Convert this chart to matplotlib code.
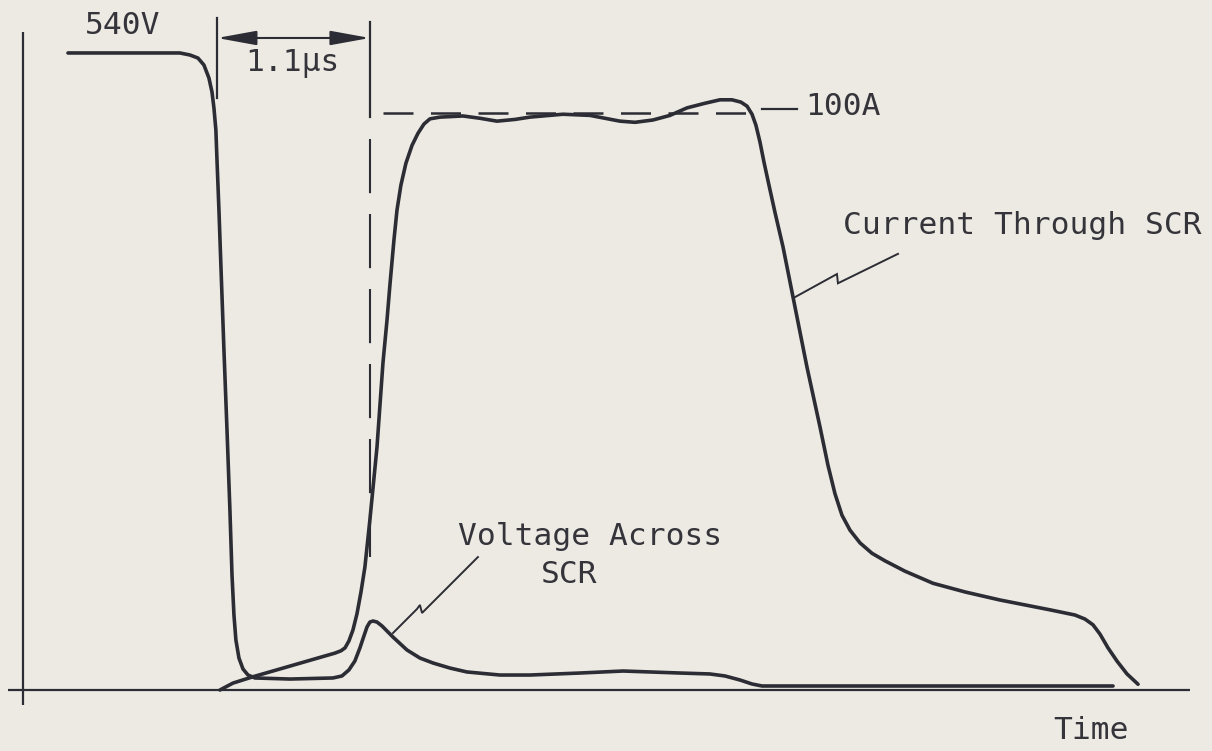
import matplotlib
matplotlib.use("Agg")
import matplotlib.pyplot as plt

# ---------------- data (time in microseconds) ----------------
volt_t = [0.324, 1.129, 1.201, 1.259, 1.302, 1.338, 1.360, 1.374, 1.388, 1.396,
          1.410, 1.424, 1.446, 1.468, 1.489, 1.504, 1.518, 1.532, 1.554, 1.583,
          1.619, 1.669, 1.921, 2.230, 2.295, 2.345, 2.388, 2.424, 2.453, 2.475,
          2.496, 2.518, 2.547, 2.583, 2.662, 2.763, 2.856, 2.950, 3.072, 3.194,
          3.432, 3.647, 4.007, 4.317, 4.727, 4.942, 5.050, 5.158, 5.245, 5.317,
          5.446, 7.842]
volt_v = [540.0, 540.0, 538.3, 535.7, 529.8, 518.8, 506.9, 493.4, 474.7, 449.3,
          406.9, 360.3, 288.2, 220.4, 152.6, 97.5, 63.6, 42.4, 27.1, 17.8,
          12.7, 10.2, 9.3, 10.2, 11.9, 17.0, 24.6, 35.6, 45.8, 53.4,
          57.6, 58.5, 57.6, 54.3, 44.9, 33.9, 27.1, 22.9, 18.6, 15.3,
          12.7, 12.7, 14.4, 16.1, 14.4, 13.6, 11.9, 8.5, 5.1, 3.4,
          3.4, 3.4]

curr_t = [1.417, 1.511, 1.655, 1.871, 2.115, 2.245, 2.288, 2.317, 2.345, 2.374,
          2.403, 2.432, 2.460, 2.496, 2.547, 2.590, 2.619, 2.640, 2.669, 2.691,
          2.719, 2.755, 2.799, 2.842, 2.885, 2.928, 3.000, 3.165, 3.288, 3.410,
          3.540, 3.647, 3.885, 4.079, 4.187, 4.295, 4.403, 4.532, 4.655, 4.777,
          4.906, 5.014, 5.101, 5.165, 5.209, 5.245, 5.273, 5.302, 5.331, 5.367,
          5.410, 5.468, 5.540, 5.640, 5.734, 5.791, 5.842, 5.892, 5.950, 6.022,
          6.108, 6.201, 6.345, 6.547, 6.777, 7.029, 7.388, 7.568, 7.640, 7.698,
          7.748, 7.806, 7.871, 7.942, 8.022]
curr_a = [0.0, 1.2, 2.3, 3.8, 5.5, 6.4, 6.8, 7.3, 8.5, 10.4,
          13.2, 17.0, 21.3, 29.5, 42.1, 56.7, 64.1, 70.2, 78.0, 83.2,
          87.5, 91.3, 94.4, 96.5, 98.1, 99.0, 99.3, 99.5, 99.1, 98.6,
          98.9, 99.3, 99.8, 99.6, 99.1, 98.6, 98.4, 98.8, 99.6, 100.9,
          101.7, 102.3, 102.3, 101.9, 101.2, 99.8, 97.9, 95.0, 91.5, 87.5,
          82.8, 76.8, 68.1, 56.0, 45.6, 39.0, 34.0, 30.3, 27.7, 25.5,
          23.7, 22.4, 20.6, 18.5, 17.0, 15.6, 13.9, 13.0, 12.3, 11.3,
          9.7, 7.3, 5.0, 2.8, 1.0]

peak_voltage = 540          # V
rated_current = 100         # A
delay_start = 1.396         # us
delay = 1.1                 # us

labels = {
    "volt": "540V",
    "delay": "1.1\u03bcs",
    "amp": "100A",
    "current": "Current Through SCR",
    "voltage1": "Voltage Across",
    "voltage2": "SCR",
    "time": "Time",
}

# ---------------- style ----------------
BG = "#edeae4"
INK = "#2c2c34"
TXT = "#34343a"
FONT = "DejaVu Sans Mono"
FS = 22.5

fig = plt.figure(figsize=(12.12, 7.51), dpi=100, facecolor=BG)
ax = fig.add_axes([0, 0, 1, 1])
ax.set_facecolor(BG)
ax.set_xlim(-0.165, 8.554)
ax.set_ylim(-51.7, 584.9)
ax.axis("off")
ax2 = ax.twinx()
ax2.set_ylim(-10.57, 119.6)
ax2.axis("off")

# axes lines
ax.plot([0, 0], [557.8, -12.7], color=INK, lw=1.6, solid_capstyle="butt")
ax.plot([-0.108, 8.396], [0, 0], color=INK, lw=1.6, solid_capstyle="butt")

# curves
ax.plot(volt_t, volt_v, color=INK, lw=2.6, solid_joinstyle="round", solid_capstyle="round")
ax2.plot(curr_t, curr_a, color=INK, lw=2.6, solid_joinstyle="round", solid_capstyle="round")

# 1.1 us marker
t1 = delay_start + delay
ax.plot([delay_start, delay_start], [569.6, 501.8], color=INK, lw=1.6)
ax.plot([t1, t1], [566.3, 485.7], color=INK, lw=1.6)
ax.plot([t1, t1], [467.0, 112.7], color=INK, lw=1.5, dashes=(26, 10))
ax.annotate("", xy=(t1, 552.7), xytext=(delay_start, 552.7),
            arrowprops=dict(arrowstyle="<|-|>,head_length=1.1,head_width=0.2",
                            mutation_scale=22, color=INK, lw=1.5,
                            shrinkA=0, shrinkB=0))
ax.text(delay_start + 0.201, 530.7, labels["delay"], fontfamily=FONT, fontsize=FS,
        color=TXT, ha="left", va="center")
ax.text(0.446, 563.7, labels["volt"], fontfamily=FONT, fontsize=FS,
        color=TXT, ha="left", va="center")

# 100 A reference
ax2.plot([2.590, 5.302], [rated_current, rated_current], color=INK, lw=1.8, dashes=(12, 7))
ax2.plot([5.32, 5.568], [100.7, 100.7], color=INK, lw=1.6)
ax2.text(5.626, 101.2, labels["amp"], fontfamily=FONT, fontsize=FS,
         color=TXT, ha="left", va="center")

# current label + pointer
ax2.plot([5.554, 5.856, 5.863, 6.295], [68.1, 72.1, 70.5, 75.6], color=INK, lw=1.4,
         solid_joinstyle="miter")
ax2.text(5.899, 80.6, labels["current"], fontfamily=FONT, fontsize=FS,
         color=TXT, ha="left", va="center")

# voltage label + pointer
ax.plot([2.662, 2.835, 2.856, 2.871, 3.273], [48.3, 68.7, 72.1, 65.3, 112.7],
        color=INK, lw=1.4, solid_joinstyle="miter")
ax.text(3.130, 130.0, labels["voltage1"], fontfamily=FONT, fontsize=FS,
        color=TXT, ha="left", va="center")
ax.text(3.933, 97.7, labels["voltage2"], fontfamily=FONT, fontsize=FS,
        color=TXT, ha="center", va="center")

# time label
ax.text(7.410, -33.9, labels["time"], fontfamily=FONT, fontsize=FS,
        color=TXT, ha="left", va="center")

fig.savefig("out.png", dpi=100, facecolor=BG)
